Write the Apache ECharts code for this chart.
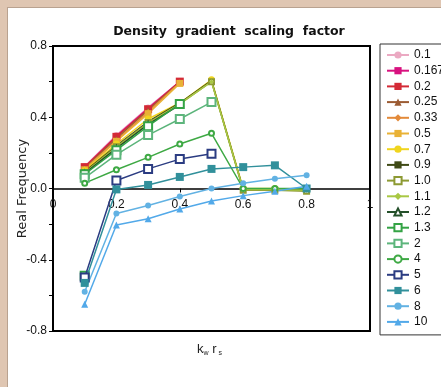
<!DOCTYPE html>
<html>
<head>
<meta charset="utf-8">
<title>Density gradient scaling factor</title>
<style>
  html, body { margin: 0; padding: 0; background: #dfc6b2; }
  #panel { position: absolute; left: 7px; top: 7px; width: 434px; height: 380px; background: #fff; border-left: 1px solid #b9a290; border-top: 1px solid #b9a290; box-sizing: border-box; }
  #main { position: absolute; left: 0; top: 0; width: 441px; height: 387px; }
</style>
</head>
<body>
<div id="panel"></div>
<div id="main"></div>
<script src="https://cdn.jsdelivr.net/npm/echarts@6/dist/echarts.min.js"></script>
<script>
  // x positions (k_w r_s)
  var xs = [0.1, 0.2, 0.3, 0.4, 0.5, 0.6, 0.7, 0.8];
  var xTicks = [0, 0.2, 0.4, 0.6, 0.8, 1];
  var yTicks = [-0.8, -0.4, 0.0, 0.4, 0.8];

  // real frequency, one array per scaling factor
  var v0_1   = [0.125, 0.300, 0.455, 0.600];
  var v0_167 = [0.120, 0.295, 0.450, 0.600];
  var v0_2   = [0.120, 0.290, 0.445, 0.600];
  var v0_25  = [0.115, 0.280, 0.440, 0.595];
  var v0_33  = [0.110, 0.270, 0.430, 0.595];
  var v0_5   = [0.105, 0.265, 0.420, 0.590];
  var v0_7   = [0.100, 0.250, 0.390, 0.480, 0.610, 0.000, 0.000, -0.010];
  var v0_9   = [0.095, 0.240, 0.375, 0.480, 0.605, -0.005, -0.005, -0.010];
  var v1_0   = [0.090, 0.235, 0.370, 0.475, 0.600, -0.010, -0.010, -0.015];
  var v1_1   = [0.090, 0.230, 0.365, 0.475, 0.600, -0.005, -0.005, -0.010];
  var v1_2   = [0.085, 0.225, 0.360, 0.470];
  var v1_3   = [0.080, 0.215, 0.350, 0.475];
  var v2     = [0.060, 0.190, 0.300, 0.390, 0.485];
  var v4     = [0.030, 0.105, 0.175, 0.250, 0.310, 0.000, 0.000, 0.000];
  var v5     = [-0.500, 0.045, 0.110, 0.165, 0.195];
  var v6     = [-0.530, -0.005, 0.020, 0.065, 0.110, 0.120, 0.130, 0.000];
  var v8     = [-0.580, -0.140, -0.095, -0.045, 0.000, 0.030, 0.055, 0.075];
  var v10    = [-0.650, -0.205, -0.170, -0.115, -0.070, -0.040, -0.015, 0.013];
  // lone 1.3 marker at the bottom left
  var stray1_3x = [0.1];
  var stray1_3y = [-0.490];

  function pairs(xv, yv) {
    return yv.map(function (y, i) { return [xv[i], y]; });
  }

  var defs = [
    {name: '0.1',   data: v0_1,   color: '#eba9c2', symbol: 'circle',       size: 6},
    {name: '0.167', data: v0_167, color: '#d8127f', symbol: 'rect',         size: 5},
    {name: '0.2',   data: v0_2,   color: '#d42a36', symbol: 'rect',         size: 8},
    {name: '0.25',  data: v0_25,  color: '#9b5b33', symbol: 'triangle',     size: 6},
    {name: '0.33',  data: v0_33,  color: '#e38a3a', symbol: 'diamond',      size: 6},
    {name: '0.5',   data: v0_5,   color: '#e9b236', symbol: 'rect',         size: 7},
    {name: '0.7',   data: v0_7,   color: '#f0d51e', symbol: 'circle',       size: 7},
    {name: '0.9',   data: v0_9,   color: '#3f4a16', symbol: 'rect',         size: 3},
    {name: '1.0',   data: v1_0,   color: '#8d9a33', symbol: 'emptyRect',    size: 5},
    {name: '1.1',   data: v1_1,   color: '#a9c844', symbol: 'diamond',      size: 5},
    {name: '1.2',   data: v1_2,   color: '#24502a', symbol: 'emptyTriangle', size: 5},
    {name: '1.3',   data: v1_3,   color: '#34a345', symbol: 'emptyRect',    size: 8},
    {name: '2',     data: v2,     color: '#5db57c', symbol: 'emptyRect',    size: 8},
    {name: '4',     data: v4,     color: '#3ea944', symbol: 'emptyCircle',  size: 5},
    {name: '5',     data: v5,     color: '#2b3c82', symbol: 'emptyRect',    size: 8},
    {name: '6',     data: v6,     color: '#31909b', symbol: 'rect',         size: 8},
    {name: '8',     data: v8,     color: '#62b2e3', symbol: 'circle',       size: 6},
    {name: '10',    data: v10,    color: '#52a9e9', symbol: 'triangle',     size: 7}
  ];

  var series = [{
    name: '1.3',
    type: 'line',
    data: pairs(stray1_3x, stray1_3y),
    symbol: 'emptyRect',
    symbolSize: 8,
    itemStyle: {color: '#34a345', borderWidth: 1.5},
    z: 1
  }];
  defs.forEach(function (d) {
    series.push({
      name: d.name,
      type: 'line',
      data: pairs(xs, d.data),
      symbol: d.symbol,
      symbolSize: d.size,
      showAllSymbol: true,
      lineStyle: {color: d.color, width: 1.5},
      itemStyle: {color: d.color, borderWidth: 1.5},
      emphasis: {disabled: true}
    });
  });

  var myChart = echarts.init(document.getElementById('main'));
  myChart.setOption({
    backgroundColor: 'transparent',
    animation: false,
    textStyle: {fontFamily: 'Liberation Sans'},
    title: [{
      text: 'Density  gradient  scaling  factor',
      left: 224,
      top: 20,
      textAlign: 'center',
      textStyle: {fontFamily: 'DejaVu Sans', fontWeight: 'bold', fontSize: 12.5, color: '#111'}
    }, {
      text: '{m|k}{s|w}{m| r}{s| s}',
      left: 192,
      top: 337,
      textStyle: {
        fontWeight: 'normal',
        rich: {
          m: {fontSize: 13, color: '#222', fontWeight: 'normal', fontFamily: 'Liberation Sans'},
          s: {fontSize: 7, color: '#222', fontWeight: 'normal', fontFamily: 'Liberation Sans', padding: [8, 0, 0, 0]}
        }
      }
    }],
    legend: {
      orient: 'vertical',
      left: 380,
      top: 44,
      data: defs.map(function (d) { return d.name; }),
      itemWidth: 22,
      itemHeight: 9,
      itemGap: 3.7,
      padding: [5, 60, 7, 6],
      borderColor: '#333',
      borderWidth: 1,
      textStyle: {fontSize: 12, color: '#111', fontFamily: 'Liberation Sans'}
    },
    grid: {
      left: 53,
      right: 71,
      top: 46,
      bottom: 56,
      show: true,
      borderColor: '#000',
      borderWidth: 2,
      backgroundColor: 'transparent'
    },
    xAxis: {
      type: 'value',
      min: xTicks[0],
      max: xTicks[xTicks.length - 1],
      interval: 0.2,
      position: 'bottom',
      offset: -142.5,
      axisLine: {onZero: false, lineStyle: {color: '#000', width: 1.5}},
      axisTick: {show: true, length: 4, lineStyle: {color: '#000'}},
      splitLine: {show: false},
      axisLabel: {
        color: '#111',
        fontSize: 12,
        margin: 10,
        formatter: function (v) {
          if (v === 0) return '0';
          if (Math.abs(v - 1) < 1e-9) return '1';
          return v.toFixed(1);
        }
      }
    },
    yAxis: {
      type: 'value',
      min: yTicks[0],
      max: yTicks[yTicks.length - 1],
      interval: 0.2,
      name: 'Real Frequency',
      nameLocation: 'middle',
      nameRotate: 90,
      nameGap: 24,
      nameMoveOverlap: false,
      nameTextStyle: {fontSize: 13, color: '#222', fontFamily: 'DejaVu Sans'},
      axisLine: {onZero: false, lineStyle: {color: '#000', width: 1.5}},
      axisTick: {show: true, length: 4, lineStyle: {color: '#000'}},
      splitLine: {show: false},
      axisLabel: {
        color: '#111',
        fontSize: 12,
        margin: 6,
        formatter: function (v) {
          var hit = yTicks.some(function (t) { return Math.abs(t - v) < 1e-9; });
          return hit ? v.toFixed(1) : '';
        }
      }
    },
    series: series
  });
</script>
</body>
</html>
